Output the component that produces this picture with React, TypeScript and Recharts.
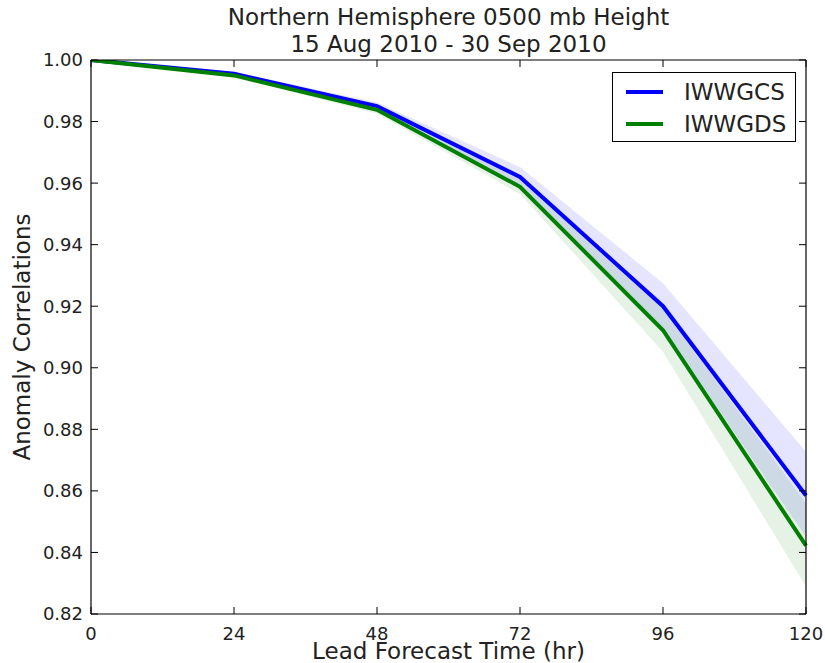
import { ComposedChart, Line, Area, XAxis, YAxis } from "recharts";

const HOURS = [0, 24, 48, 72, 96, 120];
const IWWGCS = [1.0, 0.9955, 0.985, 0.962, 0.92, 0.8585];
const IWWGDS = [1.0, 0.995, 0.9838, 0.9588, 0.9122, 0.8422];
const IWWGCS_LO = [1.0, 0.9948, 0.9838, 0.959, 0.9125, 0.845];
const IWWGCS_HI = [1.0, 0.9962, 0.9862, 0.9652, 0.9275, 0.8727];
const IWWGDS_LO = [1.0, 0.9943, 0.9826, 0.9565, 0.9052, 0.8289];
const IWWGDS_HI = [1.0, 0.9957, 0.985, 0.962, 0.919, 0.856];
const Y_TICKS = [0.82, 0.84, 0.86, 0.88, 0.9, 0.92, 0.94, 0.96, 0.98, 1.0];

const SERIES = [
  { name: "IWWGCS", color: "#0000ff" },
  { name: "IWWGDS", color: "#008000" },
];

const data = HOURS.map((h, i) => ({
  hour: h,
  IWWGCS: IWWGCS[i],
  IWWGDS: IWWGDS[i],
  csBand: [IWWGCS_LO[i], IWWGCS_HI[i]],
  dsBand: [IWWGDS_LO[i], IWWGDS_HI[i]],
}));

const FONT = "'DejaVu Sans', sans-serif";
const TICK_LEN = 7;
const X_GAP = 12;
const Y_GAP = 8;
const labelStyle = { fontSize: 18, fill: "#222", fontFamily: FONT };

// ticks point inward, matplotlib style (tickLine is off, so x/y sit tickMargin away from the axis)
const BottomTick = (p: any) => (
  <g>
    <path d={`M${p.x},${p.y - X_GAP}v${-TICK_LEN}`} stroke="#000" />
    <text x={p.x} y={p.y} dy="0.75em" textAnchor="middle" style={labelStyle}>
      {p.payload.value}
    </text>
  </g>
);
const LeftTick = (p: any) => (
  <g>
    <path d={`M${p.x + Y_GAP},${p.y}h${TICK_LEN}`} stroke="#000" />
    <text x={p.x} y={p.y} dy="0.36em" textAnchor="end" style={labelStyle}>
      {Number(p.payload.value).toFixed(2)}
    </text>
  </g>
);
const TopTick = (p: any) => <path d={`M${p.x},${p.y + X_GAP}v${TICK_LEN}`} stroke="#000" />;
const RightTick = (p: any) => <path d={`M${p.x - Y_GAP},${p.y}h${-TICK_LEN}`} stroke="#000" />;

export default function App() {
  return (
    <div style={{ position: "absolute", left: 0, top: 0, width: 825, height: 663, overflow: "hidden", background: "#fff", fontFamily: FONT, color: "#222" }}>
      <ComposedChart width={825} height={663} data={data} margin={{ top: 59, right: 18, bottom: 0, left: 0 }}>
        <XAxis
          dataKey="hour"
          type="number"
          domain={[0, 120]}
          ticks={HOURS}
          height={49}
          tickSize={0}
          tickMargin={X_GAP}
          tickLine={false}
          tick={BottomTick}
          stroke="#000"
          strokeWidth={1.2}
        />
        <XAxis
          xAxisId="top"
          orientation="top"
          dataKey="hour"
          type="number"
          domain={[0, 120]}
          ticks={HOURS}
          height={1}
          tickSize={0}
          tickMargin={X_GAP}
          tickLine={false}
          tick={TopTick}
          stroke="#000"
          strokeWidth={1.2}
        />
        <YAxis
          type="number"
          domain={[0.82, 1.0]}
          ticks={Y_TICKS}
          width={91}
          tickSize={0}
          tickMargin={Y_GAP}
          tickLine={false}
          tick={LeftTick}
          stroke="#000"
          strokeWidth={1.2}
          allowDataOverflow
        />
        <YAxis
          yAxisId="right"
          orientation="right"
          type="number"
          domain={[0.82, 1.0]}
          ticks={Y_TICKS}
          width={1}
          tickSize={0}
          tickMargin={Y_GAP}
          tickLine={false}
          tick={RightTick}
          stroke="#000"
          strokeWidth={1.2}
          allowDataOverflow
        />
        <Area xAxisId="top" yAxisId="right" dataKey="csBand" type="linear" fill={SERIES[0].color} fillOpacity={0.1} stroke="none" isAnimationActive={false} />
        <Area xAxisId="top" yAxisId="right" dataKey="dsBand" type="linear" fill={SERIES[1].color} fillOpacity={0.1} stroke="none" isAnimationActive={false} />
        {SERIES.map((s) => (
          <Line key={s.name} dataKey={s.name} type="linear" stroke={s.color} strokeWidth={4} dot={false} isAnimationActive={false} />
        ))}
      </ComposedChart>

      <div style={{ position: "absolute", left: 0, width: 897, top: 4, textAlign: "center", fontSize: 23, lineHeight: "27px" }}>
        <div>Northern Hemisphere 0500 mb Height</div>
        <div>15 Aug 2010 - 30 Sep 2010</div>
      </div>
      <div style={{ position: "absolute", left: 0, width: 897, top: 642, textAlign: "center", fontSize: 23, lineHeight: "18px" }}>
        Lead Forecast Time (hr)
      </div>
      <div
        style={{
          position: "absolute",
          left: 22,
          top: 337,
          transform: "translate(-50%, -50%) rotate(-90deg)",
          whiteSpace: "nowrap",
          fontSize: 23,
        }}
      >
        Anomaly Correlations
      </div>

      <div
        style={{
          position: "absolute",
          left: 612,
          top: 72,
          width: 184,
          height: 70,
          border: "1.5px solid #000",
          background: "#fff",
          paddingTop: 3,
          boxSizing: "border-box",
        }}
      >
        {SERIES.map((s) => (
          <div key={s.name} style={{ display: "flex", alignItems: "center", height: 32, fontSize: 23 }}>
            <div style={{ width: 37, height: 4, background: s.color, marginLeft: 13, marginRight: 21 }} />
            <span>{s.name}</span>
          </div>
        ))}
      </div>
    </div>
  );
}
